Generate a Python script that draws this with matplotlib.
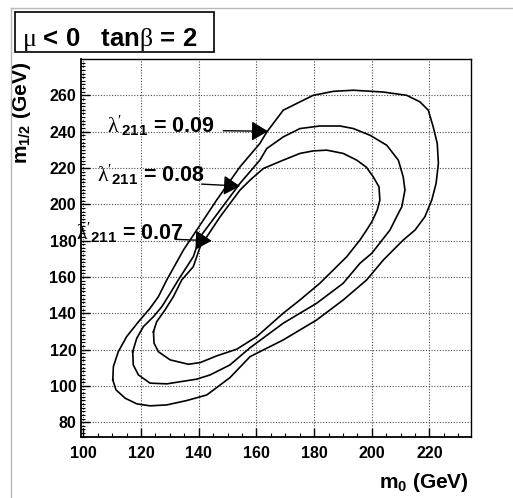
import numpy as np
import matplotlib
matplotlib.use('Agg')
import matplotlib.pyplot as plt
from matplotlib.patches import Rectangle
from matplotlib.lines import Line2D
from matplotlib.ticker import MultipleLocator

plt.rcParams['font.family'] = ['Liberation Sans', 'DejaVu Sans']
plt.rcParams['font.weight'] = 'bold'
plt.rcParams['mathtext.fontset'] = 'custom'
plt.rcParams['mathtext.rm'] = 'Liberation Serif:weight=normal'
plt.rcParams['mathtext.it'] = 'Liberation Serif:weight=normal'
plt.rcParams['mathtext.bf'] = 'Liberation Sans:bold'
plt.rcParams['mathtext.default'] = 'rm'

# contours: m0 (GeV), m1/2 (GeV)
m0_09 = [110.2, 110.4, 112.1, 115.0, 119.1, 123.1, 126.0, 128.9, 134.7, 139.3, 146.2,
         154.3, 161.2, 163.6, 169.3, 175.1, 179.7, 186.7, 193.6, 204.0, 212.1, 216.7,
         219.6, 221.3, 222.7, 223.1, 222.3, 220.8, 218.4, 215.0, 210.9, 204.0, 198.2,
         190.1, 180.9, 169.3, 157.8, 150.8, 142.8, 135.8, 128.9, 123.1, 118.5, 114.5,
         111.3]
m12_09 = [103.3, 110.6, 118.8, 127.1, 135.3, 142.7, 149.1, 158.3, 174.8, 185.8, 202.3,
          220.6, 233.5, 239.8, 251.8, 256.4, 260.0, 262.2, 262.8, 261.8, 260.0, 256.4,
          251.8, 242.6, 233.5, 222.5, 211.5, 202.3, 193.1, 185.8, 180.3, 169.3, 158.3,
          147.3, 136.3, 125.3, 116.1, 104.5, 95.0, 91.9, 89.5, 89.0, 90.1, 93.2,
          97.8]

m0_08 = [117.1, 118.5, 120.8, 124.3, 127.2, 130.1, 132.9, 138.1, 140.5, 147.4, 154.3,
         161.2, 163.6, 169.3, 175.1, 182.0, 189.0, 193.6, 199.4, 205.2, 209.2, 210.9,
         211.5, 210.4, 208.6, 206.3, 200.0, 195.9, 190.1, 180.9, 175.1, 169.3, 157.8,
         150.8, 143.9, 139.3, 128.9, 123.1, 119.1, 117.3]
m12_08 = [118.8, 126.2, 132.6, 138.1, 143.6, 151.0, 158.3, 171.1, 182.1, 196.8, 211.5,
          224.3, 230.7, 237.1, 241.7, 243.1, 243.1, 241.7, 238.0, 232.5, 224.3, 215.1,
          207.8, 198.6, 193.1, 185.8, 173.0, 167.5, 156.5, 145.5, 140.0, 134.5, 121.0,
          111.5, 106.0, 103.7, 101.1, 101.5, 106.0, 111.5]

m0_07 = [124.3, 125.4, 128.3, 131.2, 134.1, 138.1, 140.5, 147.4, 154.3, 157.8, 162.4,
         169.3, 175.1, 179.7, 184.4, 190.1, 194.8, 198.2, 200.5, 202.5, 202.8, 201.9,
         200.0, 198.2, 195.9, 191.3, 182.0, 175.1, 169.3, 160.1, 153.2, 146.2, 140.5,
         136.4, 130.1, 126.0, 124.5]
m12_07 = [129.8, 135.3, 141.8, 149.1, 158.3, 165.6, 176.6, 193.1, 207.8, 213.3, 219.7,
          224.3, 228.0, 229.4, 229.8, 228.0, 224.3, 220.3, 215.1, 209.6, 202.3, 196.8,
          190.3, 185.8, 180.3, 171.1, 156.5, 147.3, 140.0, 127.1, 120.2, 116.5, 112.8,
          111.9, 114.3, 118.8, 123.5]

couplings = ['0.09', '0.08', '0.07']
label_xy = [(145.6, 239.3), (142.2, 212.3), (134.7, 180.3)]
arrow_from = [(148.5, 240.5), (141.0, 211.1), (131.8, 180.7)]
arrow_to = [(164.0, 240.2), (154.3, 210.0), (144.5, 179.9)]

W, H = 513, 498


def fx(px):
    return px / W


def fy(py):
    return 1 - py / H


fig = plt.figure(figsize=(W / 100, H / 100), dpi=100)
fig.patch.set_facecolor('white')
ax = fig.add_axes([fx(80.5), fy(436.7), fx(470.7) - fx(80.5), fy(59) - fy(436.7)])

# canvas frame (left and top only are visible)
fig.add_artist(Line2D([fx(10.5), fx(10.5)], [0, fy(8.5)], color='0.72', lw=1))
fig.add_artist(Line2D([fx(10.5), 1], [fy(8.5), fy(8.5)], color='0.72', lw=1))

for xs, ys in [(m0_09, m12_09), (m0_08, m12_08), (m0_07, m12_07)]:
    ax.plot(xs + xs[:1], ys + ys[:1], color='black', lw=1.2)

for c, (tx, ty), p0, p1 in zip(couplings, label_xy, arrow_from, arrow_to):
    ax.text(tx, ty, r"$\lambda'_{\mathbf{211}}$ = " + c, ha='right', va='baseline',
            fontsize=15.5, clip_on=False)
    ax.annotate('', xy=p1, xytext=p0,
                arrowprops=dict(arrowstyle='-|>,head_length=1.0,head_width=0.6',
                                color='black', lw=1, mutation_scale=10,
                                shrinkA=0, shrinkB=0))

ax.set_xlim(99, 234.3)
ax.set_ylim(72, 280)
ax.set_xticks(np.arange(100, 221, 20))
ax.set_yticks(np.arange(80, 261, 20))
ax.xaxis.set_minor_locator(MultipleLocator(5))
ax.yaxis.set_minor_locator(MultipleLocator(2))
ax.tick_params(which='both', direction='in', top=False, right=False, labelsize=11.5)
ax.tick_params(which='major', length=6.5, width=1)
ax.tick_params(which='minor', length=3, width=0.8)
ax.tick_params(axis='x', pad=7)
ax.tick_params(axis='y', pad=3)

ax.set_axisbelow(True)
ax.grid(True, which='major', color='0.3', linestyle=(0, (1, 1.5)), lw=0.8)

ax.spines['left'].set_linewidth(1.3)
ax.spines['bottom'].set_linewidth(1.3)
ax.spines['top'].set_linewidth(1.0)
ax.spines['right'].set_linewidth(1.0)

ax.set_xlabel(r'$\mathbf{m}_\mathbf{0}$ (GeV)', fontsize=15, fontweight='bold',
              ha='right', va='center')
ax.xaxis.set_label_coords(0.996, (436.7 - 482) / 377.7)
ax.set_ylabel(r'$\mathbf{m}_\mathbf{1/2}$ (GeV)', fontsize=15, fontweight='bold',
              ha='right', va='center')
ax.yaxis.set_label_coords((22 - 80.5) / 390.2, (436.7 - 62) / 377.7)

# title box
fig.add_artist(Rectangle((fx(15), fy(52)), fx(214) - fx(15), fy(12) - fy(52),
                         transform=fig.transFigure, fc='white', ec='black', lw=1.2))
fig.text(fx(22), fy(46), r'$\mu$ < 0   tan$\beta$ = 2', fontsize=18.5,
         ha='left', va='baseline', fontweight='bold')

fig.savefig('out.png', dpi=100)
